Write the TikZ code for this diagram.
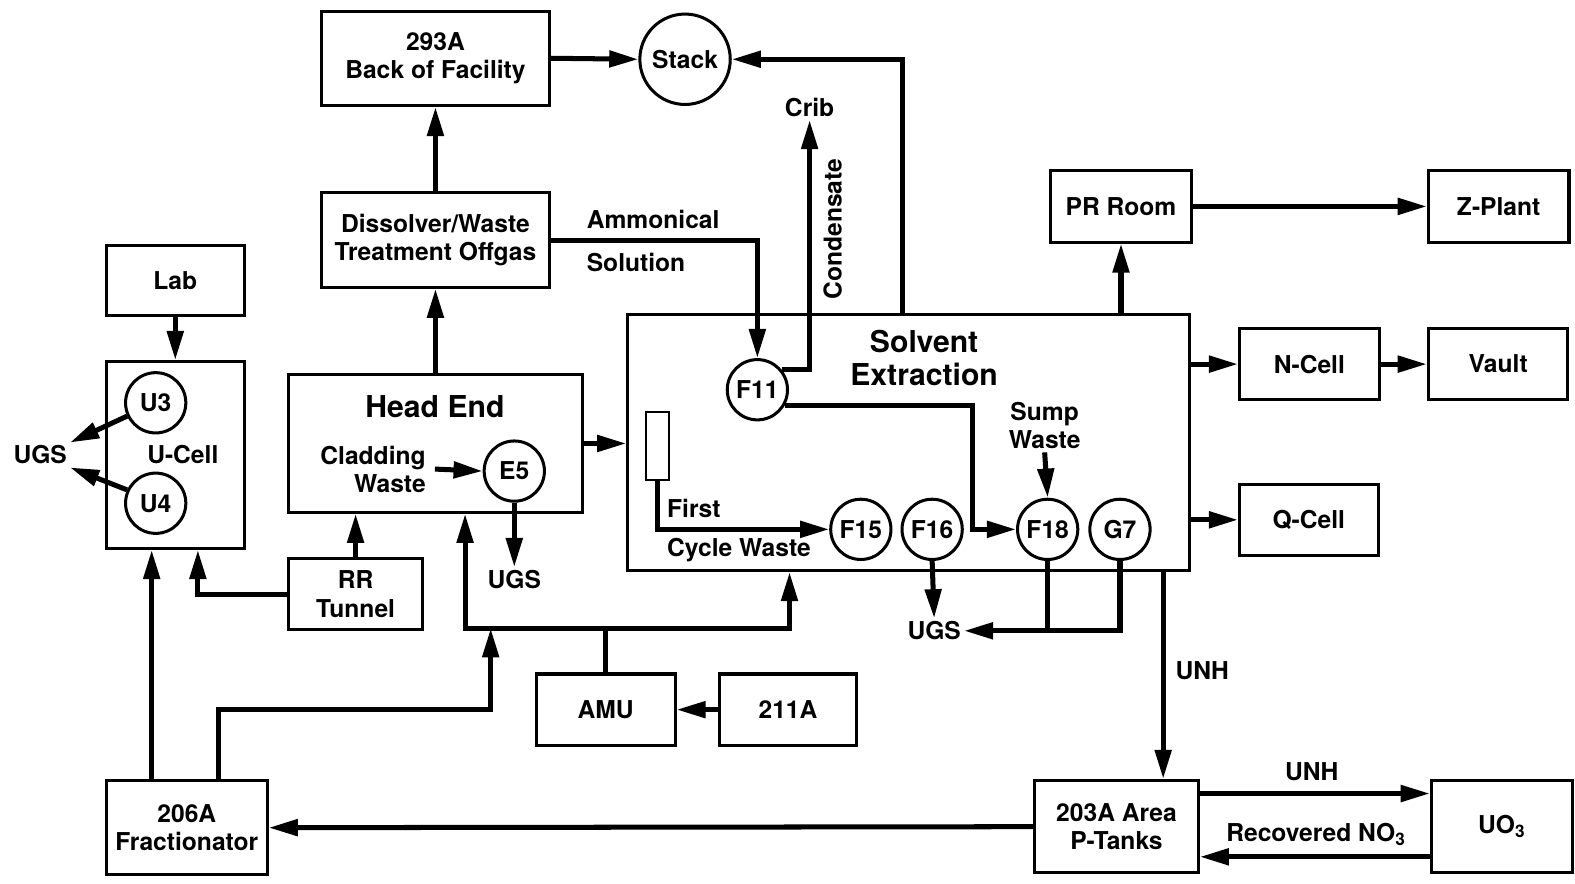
\documentclass[tikz,border=0pt]{standalone}
\usepackage{fontspec}
\setmainfont{TeX Gyre Heros}
\usetikzlibrary{arrows.meta}

\begin{document}
\begin{tikzpicture}[x=1pt, y=-1pt, >={Triangle[length=29pt, width=16pt]},
  font=\fontsize{24.5}{28}\selectfont\bfseries,
  box/.style={draw, line width=3pt, align=center, inner sep=0pt},
  unit/.style={draw, circle, line width=3pt, minimum size=60pt, inner sep=0pt},
  lbl/.style={align=center, inner sep=3pt},
  title/.style={align=center, font=\fontsize{30}{33}\selectfont\bfseries},
  flow/.style={->, line width=5pt}]
  \useasboundingbox (0,0) rectangle (1568,880);
  % stack and offgas
  \node[box, minimum width=227pt, minimum height=94pt] (facility) at (433.5,58) {293A\\Back of Facility};
  \node[unit, minimum size=90pt] (stack) at (682,59) {Stack};
  \node[box, minimum width=227pt, minimum height=94pt] (offgas) at (433.5,239) {Dissolver/Waste\\Treatment Offgas};
  % u-cell
  \node[box, minimum width=137pt, minimum height=70pt] (lab) at (174.5,279) {Lab};
  \node[box, minimum width=137pt, minimum height=186pt] (ucell) at (174.5,453) {};
  \node[lbl] (ucelltxt) at (182,453) {U-Cell};
  \node[unit] (u3) at (155,401) {U3};
  \node[unit] (u4) at (155,501) {U4};
  \node[lbl] (ugsa) at (40,453) {UGS};
  % head end
  \node[box, minimum width=293pt, minimum height=137pt] (headend) at (433.5,441.5) {};
  \node[title] (hetxt) at (433,405) {Head End};
  \node[lbl, align=right, anchor=east] (cladding) at (427,467) {Cladding\\Waste};
  \node[unit] (e5) at (512,469) {E5};
  \node[lbl] (ugsb) at (512,577) {UGS};
  \node[box, minimum width=134pt, minimum height=71pt] (rr) at (354,591.5) {RR\\Tunnel};
  % solvent extraction
  \node[box, minimum width=559pt, minimum height=255pt] (sx) at (904.5,440.5) {};
  \node[title] (sxtxt) at (920,356) {Solvent\\Extraction};
  \node[unit] (f11) at (754,388) {F11};
  \node[draw, line width=2pt, minimum width=23pt, minimum height=68pt, inner sep=0pt] (feed) at (654.5,444) {};
  \node[lbl, anchor=west] (first) at (661,506) {First};
  \node[lbl, anchor=west] (cycle) at (661,548) {Cycle Waste};
  \node[unit] (f15) at (857,527) {F15};
  \node[unit] (f16) at (928,527) {F16};
  \node[unit] (f18) at (1043,527) {F18};
  \node[unit] (g7) at (1115,527) {G7};
  \node[lbl] (sump) at (1040,424) {Sump\\Waste};
  \node[lbl] (ugsc) at (930,628) {UGS};
  \node[lbl] (crib) at (806,107) {Crib};
  \node[lbl, rotate=90] (cond) at (829,228) {Condensate};
  \node[lbl, anchor=west] (ammon) at (581,218) {Ammonical};
  \node[lbl, anchor=west] (soln) at (581,261) {Solution};
  % right side
  \node[box, minimum width=140pt, minimum height=71pt] (prroom) at (1116,205.5) {PR Room};
  \node[box, minimum width=140pt, minimum height=71pt] (zplant) at (1492,205.5) {Z-Plant};
  \node[box, minimum width=139pt, minimum height=71pt] (ncell) at (1303.5,362.5) {N-Cell};
  \node[box, minimum width=139pt, minimum height=71pt] (vault) at (1491.5,362.5) {Vault};
  \node[box, minimum width=138pt, minimum height=71pt] (qcell) at (1303,517.5) {Q-Cell};
  % bottom
  \node[box, minimum width=138pt, minimum height=71pt] (amu) at (603,706.5) {AMU};
  \node[box, minimum width=137pt, minimum height=71pt] (a211) at (784.5,706.5) {211A};
  \node[box, minimum width=160pt, minimum height=94pt] (frac) at (186,824) {206A\\Fractionator};
  \node[box, minimum width=163pt, minimum height=92pt] (ptanks) at (1111.5,823) {203A Area\\P-Tanks};
  \node[box, minimum width=140pt, minimum height=92pt] (uo3) at (1495,823) {UO\textsubscript{3}};
  \node[lbl] (unha) at (1197,668) {UNH};
  \node[lbl] (unhb) at (1306,768) {UNH};
  \node[lbl] (recov) at (1310,831) {Recovered NO\textsubscript{3}};

  % offgas flows
  \draw[flow] (facility.east) -- (stack.west);
  \draw[flow] ([xshift=-6.5pt]sx.north) |- (stack.east);
  \draw[flow] (offgas.north) -- (facility.south);
  \draw[flow] (headend.north) -- (offgas.south);
  \draw[flow] (offgas.east) -| (f11.north);
  \draw[flow] (f11.40) -| (crib.south);
  % solvent extraction inside
  \draw[flow] (f11.-30) -| ([xshift=-43pt]f18.west) -- (f18.west);
  \draw[flow] (sump.south) -- (f18.north);
  \draw[flow] (feed.south) |- (f15.west);
  \draw[flow] (f16.south) -- (ugsc.north);
  \draw[line width=5pt] (f18.south) -- (f18.south |- ugsc.east);
  \draw[flow] (g7.south) |- (ugsc.east);
  % head end and u-cell
  \draw[flow] (headend.east) -- (headend.east -| sx.west);
  \draw[flow] (e5.south) -- (ugsb.north);
  \draw[flow] ([xshift=6pt]cladding.east) -- (e5.west);
  \draw[flow] (u3.205) -- (ugsa.north east);
  \draw[flow] (u4.155) -- (ugsa.south east);
  \draw[flow] (lab.south) -- (ucell.north);
  \draw[flow] (rr.north) -- (rr.north |- headend.south);
  \draw[flow] (rr.west) -| ([xshift=22.5pt]ucell.south);
  \draw[flow] ([xshift=-35pt]frac.north) -- ([xshift=-35pt]frac.north |- ucell.south);
  % amu feed
  \draw[line width=5pt] (amu.north) -- ++(0,-44) coordinate (split);
  \draw[flow] (split) -| ([xshift=29.5pt]headend.south);
  \draw[flow] (split) -| ([xshift=-118.5pt]sx.south);
  \draw[flow] ([xshift=32pt]frac.north) |- ([xshift=-44pt]amu.west) -- ([xshift=-44pt]amu.west |- split);
  \draw[flow] (a211.west) -- (amu.east);
  % products
  \draw[flow] ([xshift=253.5pt]sx.south) -- ([xshift=46.5pt]ptanks.north);
  \draw[flow] (ptanks.west) -- (frac.east);
  \draw[flow] ([yshift=33pt]ptanks.east) -- ([yshift=33pt]ptanks.east -| uo3.west);
  \draw[flow] ([yshift=-30pt]uo3.west) -- ([yshift=-30pt]uo3.west -| ptanks.east);
  \draw[flow] (ncell.west -| sx.east) -- (ncell.west);
  \draw[flow] (ncell.east) -- (vault.west);
  \draw[flow] (qcell.west -| sx.east) -- (qcell.west);
  \draw[flow] (prroom.south |- sx.north) -- (prroom.south);
  \draw[flow] (prroom.east) -- (zplant.west);
\end{tikzpicture}
\end{document}
